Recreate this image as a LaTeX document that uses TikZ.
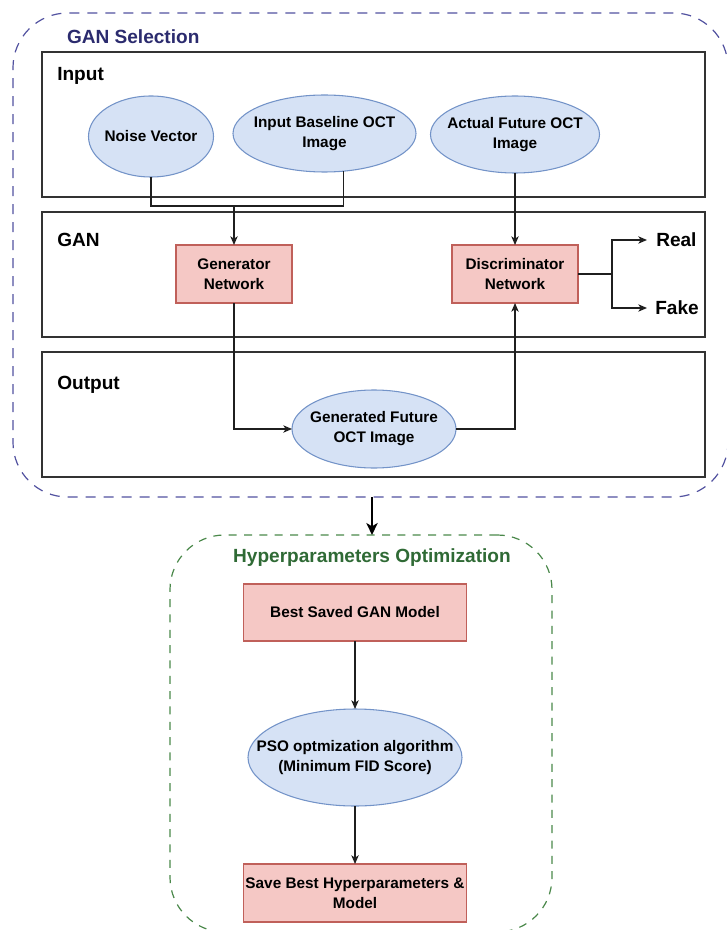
\documentclass[tikz,border=0pt]{standalone}
\usepackage{fontspec}
\setmainfont{Liberation Sans}
\usetikzlibrary{arrows.meta,shapes.geometric}

\definecolor{ellfill}{HTML}{D6E2F5}
\definecolor{ellline}{HTML}{7393C8}
\definecolor{boxfill}{HTML}{F5C8C5}
\definecolor{boxline}{HTML}{C0605A}
\definecolor{panelline}{HTML}{333333}
\definecolor{ganframe}{HTML}{5252A0}
\definecolor{gantitle}{HTML}{2B2B6E}
\definecolor{hypframe}{HTML}{4A884A}
\definecolor{hyptitle}{HTML}{2F6A35}

% one drawing unit is one pixel of the final image
\newcommand{\pxu}{0.75pt}

\tikzset{
  sectitle/.style={font=\fontsize{14.3}{17}\selectfont\bfseries, inner sep=0pt, outer sep=0pt},
  lbl/.style={font=\fontsize{14.3}{17}\selectfont\bfseries, anchor=west, inner sep=0pt},
  ntext/.style={font=\fontsize{11.5}{15}\selectfont\bfseries, align=center, inner sep=0pt, text=black},
  oval/.style={ellipse, draw=ellline, fill=ellfill, line width=0.8pt, inner sep=0pt, outer sep=0pt},
  pbox/.style={rectangle, draw=boxline, fill=boxfill, line width=0.9pt, inner sep=2pt, outer sep=0pt, ntext},
  panel/.style={rectangle, draw=panelline, line width=1.1pt, inner sep=0pt, outer sep=0pt},
  conn/.style={draw=black!88, line width=0.9pt},
  arr/.style={conn, -{Stealth[length=6.5pt, width=5.5pt, inset=1.8pt]}},
  bigarr/.style={draw=black, line width=1.5pt, -{Stealth[length=9pt, width=8.5pt, inset=2.5pt]}},
}

\begin{document}
\begin{tikzpicture}[x=0.75pt, y=-0.75pt]
\useasboundingbox (0,0) rectangle (726,930);

% ---- GAN selection frame ----
\node[rectangle, draw=ganframe, line width=0.9pt, dash pattern=on 7.5pt off 6pt,
      rounded corners=41pt, minimum width=715*\pxu, minimum height=484*\pxu,
      inner sep=0pt, outer sep=0pt] (gansel) at (370.5,255) {};
\node[sectitle, text=gantitle, anchor=west] (gantitle) at (67,37) {GAN Selection};

% ---- panels ----
\node[panel, minimum width=663*\pxu, minimum height=145*\pxu] (inpanel) at (373.5,124.5) {};
\node[panel, minimum width=663*\pxu, minimum height=125*\pxu] (ganpanel) at (373.5,274.5) {};
\node[panel, minimum width=663*\pxu, minimum height=125*\pxu] (outpanel) at (373.5,414.5) {};
\node[lbl] (inlbl) at (57,76) {Input};
\node[lbl] (ganlbl) at (57,240) {GAN};
\node[lbl] (outlbl) at (57,385) {Output};

% ---- input row ----
\node[oval, minimum width=125*\pxu, minimum height=81*\pxu,
      label={[ntext]center:Noise Vector}] (noise) at (151,136.5) {};
\node[oval, minimum width=183*\pxu, minimum height=77*\pxu,
      label={[ntext]center:Input Baseline OCT\\Image}] (base) at (324.5,133.5) {};
\node[oval, minimum width=169*\pxu, minimum height=77*\pxu,
      label={[ntext]center:Actual Future OCT\\Image}] (actual) at (515,134.5) {};

% ---- GAN row ----
\node[pbox, minimum width=116*\pxu, minimum height=58*\pxu] (gen) at (234,274) {Generator\\Network};
\node[pbox, minimum width=126*\pxu, minimum height=58*\pxu] (disc) at (515,274) {Discriminator\\Network};
\node[lbl] (real) at (656,240) {Real};
\node[lbl] (fake) at (655,308) {Fake};

% ---- output row ----
\node[oval, minimum width=164*\pxu, minimum height=78*\pxu,
      label={[ntext]center:Generated Future\\OCT Image}] (genout) at (374,429) {};

% ---- connectors ----
\coordinate (join) at (234,206);
\coordinate (split) at (612,274);
\draw[conn] (noise.south) |- (join);
\draw[conn] (base.-63) |- (join);
\draw[arr] (join) -- (gen.north);
\draw[arr] (actual.south) -- (disc.north);
\draw[conn] (disc.east) -- (split);
\draw[arr] (split) |- ([xshift=-9*\pxu]real.west);
\draw[arr] (split) |- ([xshift=-8*\pxu]fake.west);
\draw[arr] (gen.south) |- (genout.west);
\draw[arr] (genout.east) -| (disc.south);

% ---- hyperparameter optimisation frame ----
\node[rectangle, draw=hypframe, line width=0.9pt, dash pattern=on 6pt off 5.5pt,
      rounded corners=41pt, minimum width=382*\pxu, minimum height=397*\pxu,
      inner sep=0pt, outer sep=0pt] (hyp) at (361,733.5) {};
\node[sectitle, text=hyptitle] (hyptitle) at (372,558) {Hyperparameters Optimization};

\node[pbox, minimum width=223*\pxu, minimum height=57*\pxu] (best) at (355,612.5) {Best Saved GAN Model};
\node[oval, minimum width=214*\pxu, minimum height=97*\pxu,
      label={[ntext]center:PSO optmization algorithm\\(Minimum FID Score)}] (pso) at (355,757.5) {};
\node[pbox, minimum width=223*\pxu, minimum height=58*\pxu] (save) at (355,893) {Save Best Hyperparameters \&\\Model};

\draw[arr] (best.south) -- (pso.north);
\draw[arr] (pso.south) -- (save.north);

% ---- link between the two stages ----
\draw[bigarr] (gansel.south -| hyptitle) -- (hyp.north -| hyptitle);
\end{tikzpicture}
\end{document}
